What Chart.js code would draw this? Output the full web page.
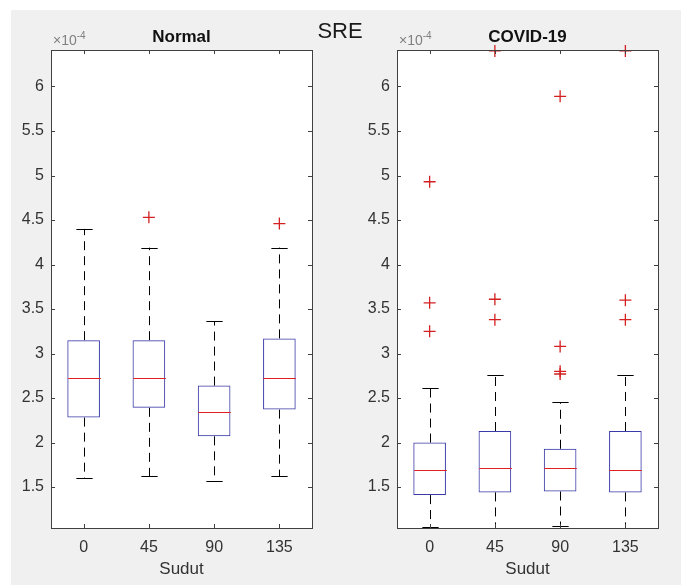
<!DOCTYPE html>
<html lang="en">
<head>
<meta charset="UTF-8">
<title>SRE</title>
<script src="https://cdn.jsdelivr.net/npm/chart.js"></script>
<style>
  body { margin: 0; background: #fff; width: 681px; height: 585px; overflow: hidden; position: relative; font-family: "Liberation Sans", Arial, sans-serif; }
  #fig { position: absolute; left: 11px; top: 10px; right: 0; bottom: 0; background: #f0f0f0; }
  canvas { position: absolute; top: 0; }
  #suptitle { position: absolute; left: 290px; width: 100px; top: 20px; text-align: center; font-size: 22px; line-height: 22px; color: #1a1a1a; }
</style>
</head>
<body>
<div id="fig"></div>
<canvas id="normalChart" width="340" height="585" style="left:0"></canvas>
<canvas id="covidChart" width="341" height="585" style="left:340px"></canvas>
<div id="suptitle">SRE</div>
<script>
// values are in units of 1e-4
const categories = ['0', '45', '90', '135'];
const yTicks = [1.5, 2, 2.5, 3, 3.5, 4, 4.5, 5, 5.5, 6];
const yMin = 1.04, yMax = 6.41;

const normalLow = [1.60, 1.62, 1.57, 1.62];
const normalQ1 = [2.28, 2.39, 2.07, 2.37];
const normalMedian = [2.72, 2.73, 2.34, 2.73];
const normalQ3 = [3.15, 3.15, 2.64, 3.17];
const normalHigh = [4.40, 4.19, 3.36, 4.19];
const normalOutliers = [[], [4.53], [], [4.46]];

const covidLow = [1.05, 1.02, 1.06, 1.02];
const covidQ1 = [1.41, 1.44, 1.45, 1.44];
const covidMedian = [1.69, 1.71, 1.71, 1.69];
const covidQ3 = [2.00, 2.13, 1.93, 2.13];
const covidHigh = [2.61, 2.76, 2.45, 2.76];
const covidOutliers = [[4.93, 3.57, 3.25], [6.40, 3.61, 3.38], [5.89, 3.08, 2.80, 2.77], [6.40, 3.60, 3.38]];

const axisColor = '#404040';
const textColor = '#333333';

// whiskers, medians, axes box, inner ticks and titles
const boxDecor = {
  id: 'boxDecor',
  beforeDraw(chart) {
    const a = chart.chartArea, ctx = chart.ctx;
    ctx.save();
    ctx.fillStyle = '#ffffff';
    ctx.fillRect(a.left, a.top, a.right - a.left, a.bottom - a.top);
    ctx.restore();
  },
  afterDatasetsDraw(chart, args, opts) {
    const a = chart.chartArea, ctx = chart.ctx;
    const xs = chart.scales.x, ys = chart.scales.y;
    const meta = chart.getDatasetMeta(0);
    ctx.save();
    ctx.beginPath();
    ctx.rect(a.left, a.top, a.right - a.left, a.bottom - a.top);
    ctx.clip();
    categories.forEach((c, i) => {
      const x = Math.round(xs.getPixelForValue(i)) + 0.5;
      const bw = meta.data[i].width;
      const yLo = ys.getPixelForValue(opts.low[i]);
      const yQ1 = ys.getPixelForValue(opts.q1[i]);
      const yQ3 = ys.getPixelForValue(opts.q3[i]);
      const yHi = ys.getPixelForValue(opts.high[i]);
      const yMed = Math.round(ys.getPixelForValue(opts.median[i])) + 0.5;
      ctx.strokeStyle = '#000000';
      ctx.lineWidth = 1;
      ctx.setLineDash([9, 6]);
      ctx.beginPath();
      ctx.moveTo(x, yQ3); ctx.lineTo(x, yHi);
      ctx.moveTo(x, yQ1); ctx.lineTo(x, yLo);
      ctx.stroke();
      ctx.setLineDash([]);
      ctx.beginPath();
      ctx.moveTo(x - bw / 4, Math.round(yHi) + 0.5); ctx.lineTo(x + bw / 4, Math.round(yHi) + 0.5);
      ctx.moveTo(x - bw / 4, Math.round(yLo) + 0.5); ctx.lineTo(x + bw / 4, Math.round(yLo) + 0.5);
      ctx.stroke();
      ctx.strokeStyle = '#e02020';
      ctx.beginPath();
      ctx.moveTo(x - bw / 2, yMed); ctx.lineTo(x + bw / 2, yMed);
      ctx.stroke();
    });
    ctx.restore();
  },
  afterDraw(chart, args, opts) {
    const a = chart.chartArea, ctx = chart.ctx;
    const xs = chart.scales.x, ys = chart.scales.y;
    ctx.save();
    ctx.strokeStyle = axisColor;
    ctx.lineWidth = 1;
    ctx.strokeRect(Math.round(a.left) + 0.5, Math.round(a.top) + 0.5, Math.round(a.right - a.left), Math.round(a.bottom - a.top));
    ctx.beginPath();
    yTicks.forEach(v => {
      const y = Math.round(ys.getPixelForValue(v)) + 0.5;
      ctx.moveTo(a.left, y); ctx.lineTo(a.left + 4, y);
      ctx.moveTo(a.right, y); ctx.lineTo(a.right - 4, y);
    });
    categories.forEach((c, i) => {
      const x = Math.round(xs.getPixelForValue(i)) + 0.5;
      ctx.moveTo(x, a.bottom); ctx.lineTo(x, a.bottom - 4);
      ctx.moveTo(x, a.top); ctx.lineTo(x, a.top + 4);
    });
    ctx.stroke();

    ctx.fillStyle = '#111111';
    ctx.font = 'bold 17px "Liberation Sans", Arial, sans-serif';
    ctx.textAlign = 'center';
    ctx.textBaseline = 'alphabetic';
    ctx.fillText(opts.title, (a.left + a.right) / 2, 42);

    ctx.fillStyle = '#808080';
    ctx.textAlign = 'left';
    ctx.font = '14px "Liberation Sans", Arial, sans-serif';
    ctx.fillText('\u00d710', a.left + 2, 45);
    const w = ctx.measureText('\u00d710').width;
    ctx.font = '10px "Liberation Sans", Arial, sans-serif';
    ctx.fillText('-4', a.left + 2 + w, 39);
    ctx.restore();
  }
};

function makeChart(id, title, low, q1, median, q3, high, outliers, yWidth, padRight) {
  const outlierPoints = [];
  outliers.forEach((list, i) => list.forEach(v => outlierPoints.push({ x: categories[i], y: v })));
  const boxes = categories.map((c, i) => [q1[i], q3[i]]);
  return new Chart(document.getElementById(id).getContext('2d'), {
    type: 'bar',
    data: {
      labels: categories,
      datasets: [{
        type: 'bar',
        data: boxes,
        backgroundColor: 'rgba(0,0,0,0)',
        borderColor: '#3a3aa8',
        borderWidth: 1,
        borderSkipped: false,
        barPercentage: 0.5,
        categoryPercentage: 1
      }, {
        type: 'line',
        data: outlierPoints,
        showLine: false,
        pointStyle: 'cross',
        pointRadius: 6,
        pointBorderColor: '#d42020',
        pointBorderWidth: 1.3,
        clip: false
      }]
    },
    options: {
      responsive: false,
      devicePixelRatio: 1,
      animation: false,
      layout: { padding: { left: 0, right: padRight, top: 50, bottom: 0 } },
      plugins: {
        legend: { display: false },
        tooltip: { enabled: false },
        boxDecor: { title: title, low: low, q1: q1, median: median, q3: q3, high: high }
      },
      scales: {
        x: {
          grid: { display: false, drawTicks: false },
          border: { display: false },
          ticks: { color: textColor, font: { size: 16, family: '"Liberation Sans", Arial, sans-serif' }, padding: 10 },
          title: { display: true, text: 'Sudut', color: textColor, font: { size: 17, family: '"Liberation Sans", Arial, sans-serif' }, padding: { top: 0, bottom: 5 } },
          afterFit(scale) { scale.height = 57; }
        },
        y: {
          min: yMin,
          max: yMax,
          grid: { display: false, drawTicks: false },
          border: { display: false },
          ticks: {
            color: textColor,
            font: { size: 16, family: '"Liberation Sans", Arial, sans-serif' },
            padding: 7,
            callback: v => String(v)
          },
          afterBuildTicks(scale) { scale.ticks = yTicks.map(v => ({ value: v })); },
          afterFit(scale) { scale.width = yWidth; }
        }
      }
    },
    plugins: [boxDecor]
  });
}

makeChart('normalChart', 'Normal', normalLow, normalQ1, normalMedian, normalQ3, normalHigh, normalOutliers, 51, 28);
makeChart('covidChart', 'COVID-19', covidLow, covidQ1, covidMedian, covidQ3, covidHigh, covidOutliers, 57, 23);
</script>
</body>
</html>
